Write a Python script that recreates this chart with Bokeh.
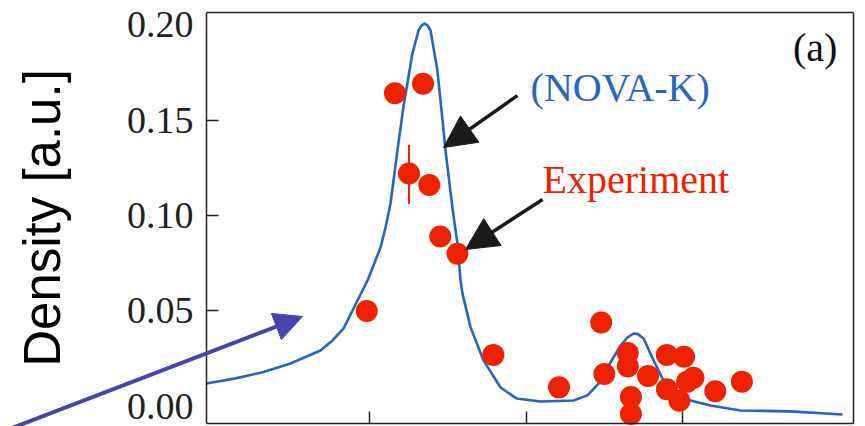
from bokeh.plotting import figure
from bokeh.models import (Range1d, FixedTicker, Arrow, NormalHead, Label,
                          NumeralTickFormatter, LinearAxis)
from bokeh.embed import file_html
from bokeh.resources import INLINE

# ---- data -------------------------------------------------------------
# model curve (NOVA-K)
curve_x = [-0.045, 0.140, 0.319, 0.492, 0.684, 0.761, 0.831, 0.908, 0.985, 1.068,
           1.100, 1.132, 1.176, 1.215, 1.272, 1.311, 1.330, 1.350, 1.369, 1.388,
           1.432, 1.465, 1.484, 1.528, 1.560, 1.580, 1.592, 1.644, 1.727, 1.836,
           1.938, 2.091, 2.303, 2.392, 2.463, 2.520, 2.604, 2.648, 2.687, 2.712,
           2.751, 2.815, 2.878, 2.968, 3.051, 3.179, 3.372, 3.691, 4.024]
curve_y = [0.0120, 0.0147, 0.0180, 0.0225, 0.0293, 0.0346, 0.0408, 0.0534, 0.0660, 0.0832,
           0.0937, 0.1063, 0.1340, 0.1571, 0.1848, 0.1969, 0.1995, 0.2005, 0.1995, 0.1969,
           0.1759, 0.1497, 0.1340, 0.1042, 0.0853, 0.0660, 0.0592, 0.0414, 0.0241, 0.0099,
           0.0042, 0.0026, 0.0031, 0.0058, 0.0120, 0.0204, 0.0319, 0.0361, 0.0382, 0.0380,
           0.0356, 0.0241, 0.0136, 0.0073, 0.0031, 0.0005, -0.0021, -0.0026, -0.0042]

# experiment
exp_x = [1.16, 1.34, 1.25, 1.38, 1.45, 1.56, 0.98, 1.79, 2.21, 2.48, 2.50, 2.65,
         2.65, 2.78, 2.67, 2.67, 2.90, 3.01, 2.90, 2.98, 3.03, 3.07, 3.21, 3.38]
exp_y = [0.164, 0.169, 0.122, 0.116, 0.089, 0.080, 0.050, 0.027, 0.010, 0.044, 0.017, 0.028,
         0.021, 0.016, 0.005, -0.004, 0.027, 0.026, 0.009, 0.003, 0.013, 0.015, 0.008, 0.013]

# one error bar
err_x = [1.25]
err_lo = [0.106]
err_hi = [0.137]

y_ticks = [0.0, 0.05, 0.10, 0.15, 0.20]
y_marks = [0.05, 0.10, 0.15]
x_ticks = [1, 2, 3]

# plot box (data units) and the whole visible window
box_x = (-0.0454, 4.0921)
box_y = (-0.0087, 0.2061)
view_x = (-1.3634, 4.1709)
view_y = (-0.0105, 0.2126)

BLUE = "#2466c2"
RED = "#ee2200"
PURPLE = "#4646aa"
INK = "#1a1a1a"
FRAME = "#222222"
SERIF = "Liberation Serif"

# ---- figure -----------------------------------------------------------
p = figure(width=865, height=426, output_backend="svg", toolbar_location=None,
           x_range=Range1d(*view_x), y_range=Range1d(*view_y),
           min_border_left=0, min_border_right=0, min_border_top=0, min_border_bottom=0)
p.background_fill_color = "white"
p.border_fill_color = "white"
p.outline_line_color = None
p.xgrid.visible = False
p.ygrid.visible = False


def style_line(ax):
    ax.axis_line_color = FRAME
    ax.axis_line_width = 1.5
    ax.minor_tick_line_color = None


# bottom axis: inward ticks (its labels are cut off in the original)
xa = p.xaxis[0]
xa.fixed_location = box_y[0]
xa.bounds = box_x
xa.ticker = FixedTicker(ticks=x_ticks, minor_ticks=[])
xa.major_tick_in = 12
xa.major_tick_out = 0
xa.major_tick_line_color = FRAME
xa.major_tick_line_width = 1.5
xa.major_label_overrides = {1: "", 2: "", 3: ""}
xa.major_label_text_font_size = "1px"
xa.major_label_standoff = 0
style_line(xa)

# left axis
ya = p.yaxis[0]
ya.fixed_location = box_x[0]
ya.bounds = box_y
ya.ticker = FixedTicker(ticks=y_ticks, minor_ticks=y_marks)
ya.formatter = NumeralTickFormatter(format="0.00")
ya.major_tick_line_color = None
ya.major_tick_in = 0
ya.major_tick_out = 0
style_line(ya)
ya.minor_tick_in = 12
ya.minor_tick_out = 0
ya.minor_tick_line_color = FRAME
ya.minor_tick_line_width = 1.5
ya.major_label_standoff = 13
ya.major_label_text_font = SERIF
ya.major_label_text_font_size = "38px"
ya.major_label_text_color = FRAME
ya.axis_label = "Density [a.u.]"
ya.axis_label_text_font = "Liberation Sans"
ya.axis_label_text_font_size = "51px"
ya.axis_label_text_font_style = "normal"
ya.axis_label_text_color = "black"
ya.axis_label_standoff = 53

# top and right edges of the box
top = LinearAxis(fixed_location=box_y[1], bounds=box_x,
                 ticker=FixedTicker(ticks=[], minor_ticks=[]),
                 major_tick_line_color=None)
style_line(top)
right = LinearAxis(fixed_location=box_x[1], bounds=box_y,
                   ticker=FixedTicker(ticks=[], minor_ticks=[]),
                   major_tick_line_color=None)
style_line(right)
p.add_layout(top, "above")
p.add_layout(right, "right")

# ---- glyphs -----------------------------------------------------------
p.line(curve_x, curve_y, line_color=BLUE, line_width=2.6, line_join="round")
p.segment(x0=err_x, y0=err_lo, x1=err_x, y1=err_hi, line_color=RED, line_width=2)
p.scatter(exp_x, exp_y, size=22, fill_color=RED, line_color=RED, line_width=0)

# ---- annotations ------------------------------------------------------
p.add_layout(Label(x=2.028, y=0.1670, text="(NOVA-K)", text_font=SERIF,
                   text_font_size="40px", text_color=BLUE, text_baseline="alphabetic"))
p.add_layout(Label(x=2.105, y=0.1188, text="Experiment", text_font=SERIF,
                   text_font_size="40px", text_color=RED, text_baseline="alphabetic"))
p.add_layout(Label(x=3.991, y=0.1880, text="(a)", text_font=SERIF,
                   text_font_size="40px", text_color="#111111", text_align="right",
                   text_baseline="alphabetic"))

p.add_layout(Arrow(end=NormalHead(size=32, fill_color=INK, line_color=INK),
                   x_start=1.944, y_start=0.1628, x_end=1.471, y_end=0.1356,
                   line_color=INK, line_width=3.5))
p.add_layout(Arrow(end=NormalHead(size=32, fill_color=INK, line_color=INK),
                   x_start=2.105, y_start=0.1084, x_end=1.612, y_end=0.0822,
                   line_color=INK, line_width=3.5))
# purple pointer coming in from the lower left corner
p.add_layout(Arrow(end=NormalHead(size=28, fill_color=PURPLE, line_color=PURPLE),
                   x_start=-1.363, y_start=-0.0136, x_end=0.569, y_end=0.0471,
                   line_color=PURPLE, line_width=4))

open("out.html", "w").write(file_html(p, INLINE))
